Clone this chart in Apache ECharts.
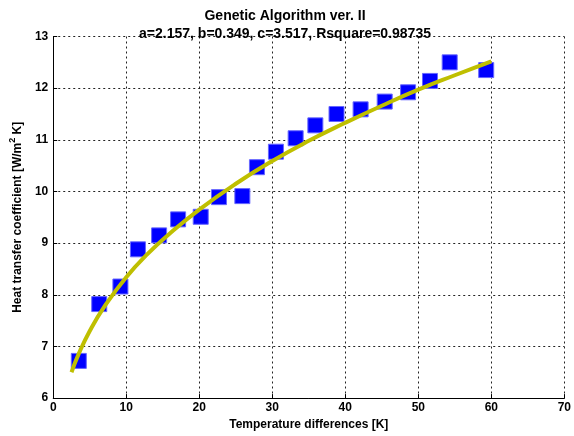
<!DOCTYPE html>
<html>
<head>
<meta charset="utf-8">
<script src="https://cdn.jsdelivr.net/npm/echarts@6/dist/echarts.min.js"></script>
<style>html,body{margin:0;padding:0;background:#fff}#c{width:574px;height:436px}</style>
</head>
<body>
<div id="c"></div>
<script>
// Measured data (temperature difference [K], heat transfer coefficient)
var measX = [3.5, 6.3, 9.2, 11.6, 14.5, 17.1, 20.2, 22.7, 25.9, 27.9, 30.5, 33.2, 35.9, 38.8, 42.1, 45.4, 48.6, 51.6, 54.3, 59.3];
var measY = [6.72, 7.82, 8.16, 8.88, 9.15, 9.46, 9.51, 9.89, 9.91, 10.47, 10.77, 11.03, 11.28, 11.50, 11.59, 11.74, 11.92, 12.14, 12.50, 12.35];
// Fitted curve
var fitX = [2.5, 3.5, 5, 7, 10, 13, 16, 20, 25, 30, 35, 40, 45, 50, 55, 60];
var fitY = [6.5, 6.86, 7.3, 7.77, 8.34, 8.8, 9.19, 9.65, 10.15, 10.59, 10.98, 11.33, 11.66, 11.97, 12.25, 12.52];
var xTicks = [0, 10, 20, 30, 40, 50, 60, 70];
var yTicks = [6, 7, 8, 9, 10, 11, 12, 13];

var measData = measX.map(function (x, i) { return [x, measY[i]]; });
var fitData = fitX.map(function (x, i) { return [x, fitY[i]]; });

var font = 'Liberation Sans, Arial, sans-serif';
var gridLine = { show: true, lineStyle: { color: '#222', type: [2, 3], width: 1 } };

var chart = echarts.init(document.getElementById('c'), null, { renderer: 'canvas' });
chart.setOption({
  animation: false,
  backgroundColor: '#fff',
  title: {
    text: 'Genetic Algorithm ver. II\na=2.157, b=0.349, c=3.517, Rsquare=0.98735',
    left: 280, top: 2, textAlign: 'center',
    textStyle: { fontFamily: font, fontSize: 14, fontWeight: 'bold', color: '#000', lineHeight: 18 }
  },
  grid: { left: 41, right: 4, top: 36.5, bottom: 32.7, containLabel: false },
  xAxis: {
    type: 'value', min: xTicks[0], max: xTicks[xTicks.length - 1], interval: 10,
    name: 'Temperature differences [K]', nameLocation: 'middle', nameGap: 15,
    nameTextStyle: { fontFamily: font, fontSize: 12, fontWeight: 'bold', color: '#000' },
    axisLine: { show: true, onZero: false, lineStyle: { color: '#000', width: 1 } },
    axisTick: { show: true, inside: true, length: 4, lineStyle: { color: '#000' } },
    axisLabel: { fontFamily: font, fontSize: 12, fontWeight: 'bold', color: '#000', margin: 4 },
    splitLine: gridLine
  },
  yAxis: {
    type: 'value', min: yTicks[0], max: yTicks[yTicks.length - 1], interval: 1,
    name: '{a|Heat transfer coefficient [W/m}{s|2}{a| K]}', nameLocation: 'middle', nameGap: 24, nameRotate: 90,
    nameTextStyle: {
      fontFamily: font, fontSize: 12, fontWeight: 'bold', color: '#000',
      rich: {
        a: { fontFamily: font, fontSize: 12, fontWeight: 'bold', color: '#000', lineHeight: 16, verticalAlign: 'bottom' },
        s: { fontFamily: font, fontSize: 9, fontWeight: 'bold', color: '#000', lineHeight: 16, verticalAlign: 'top', padding: [0, 0, 6, 0] }
      }
    },
    axisLine: { show: true, onZero: false, lineStyle: { color: '#000', width: 1 } },
    axisTick: { show: true, inside: true, length: 4, lineStyle: { color: '#000' } },
    axisLabel: { fontFamily: font, fontSize: 12, fontWeight: 'bold', color: '#000', margin: 5 },
    splitLine: gridLine
  },
  series: [
    {
      type: 'scatter', data: measData, symbol: 'rect', symbolSize: 15,
      itemStyle: { color: '#0000ff', borderColor: '#6666ff', borderWidth: 1, opacity: 1 },
      z: 2
    },
    {
      type: 'line', data: fitData, smooth: true, showSymbol: false, symbol: 'none',
      lineStyle: { color: '#bfbf00', width: 4, cap: 'butt' },
      z: 3
    }
  ]
});
</script>
</body>
</html>
